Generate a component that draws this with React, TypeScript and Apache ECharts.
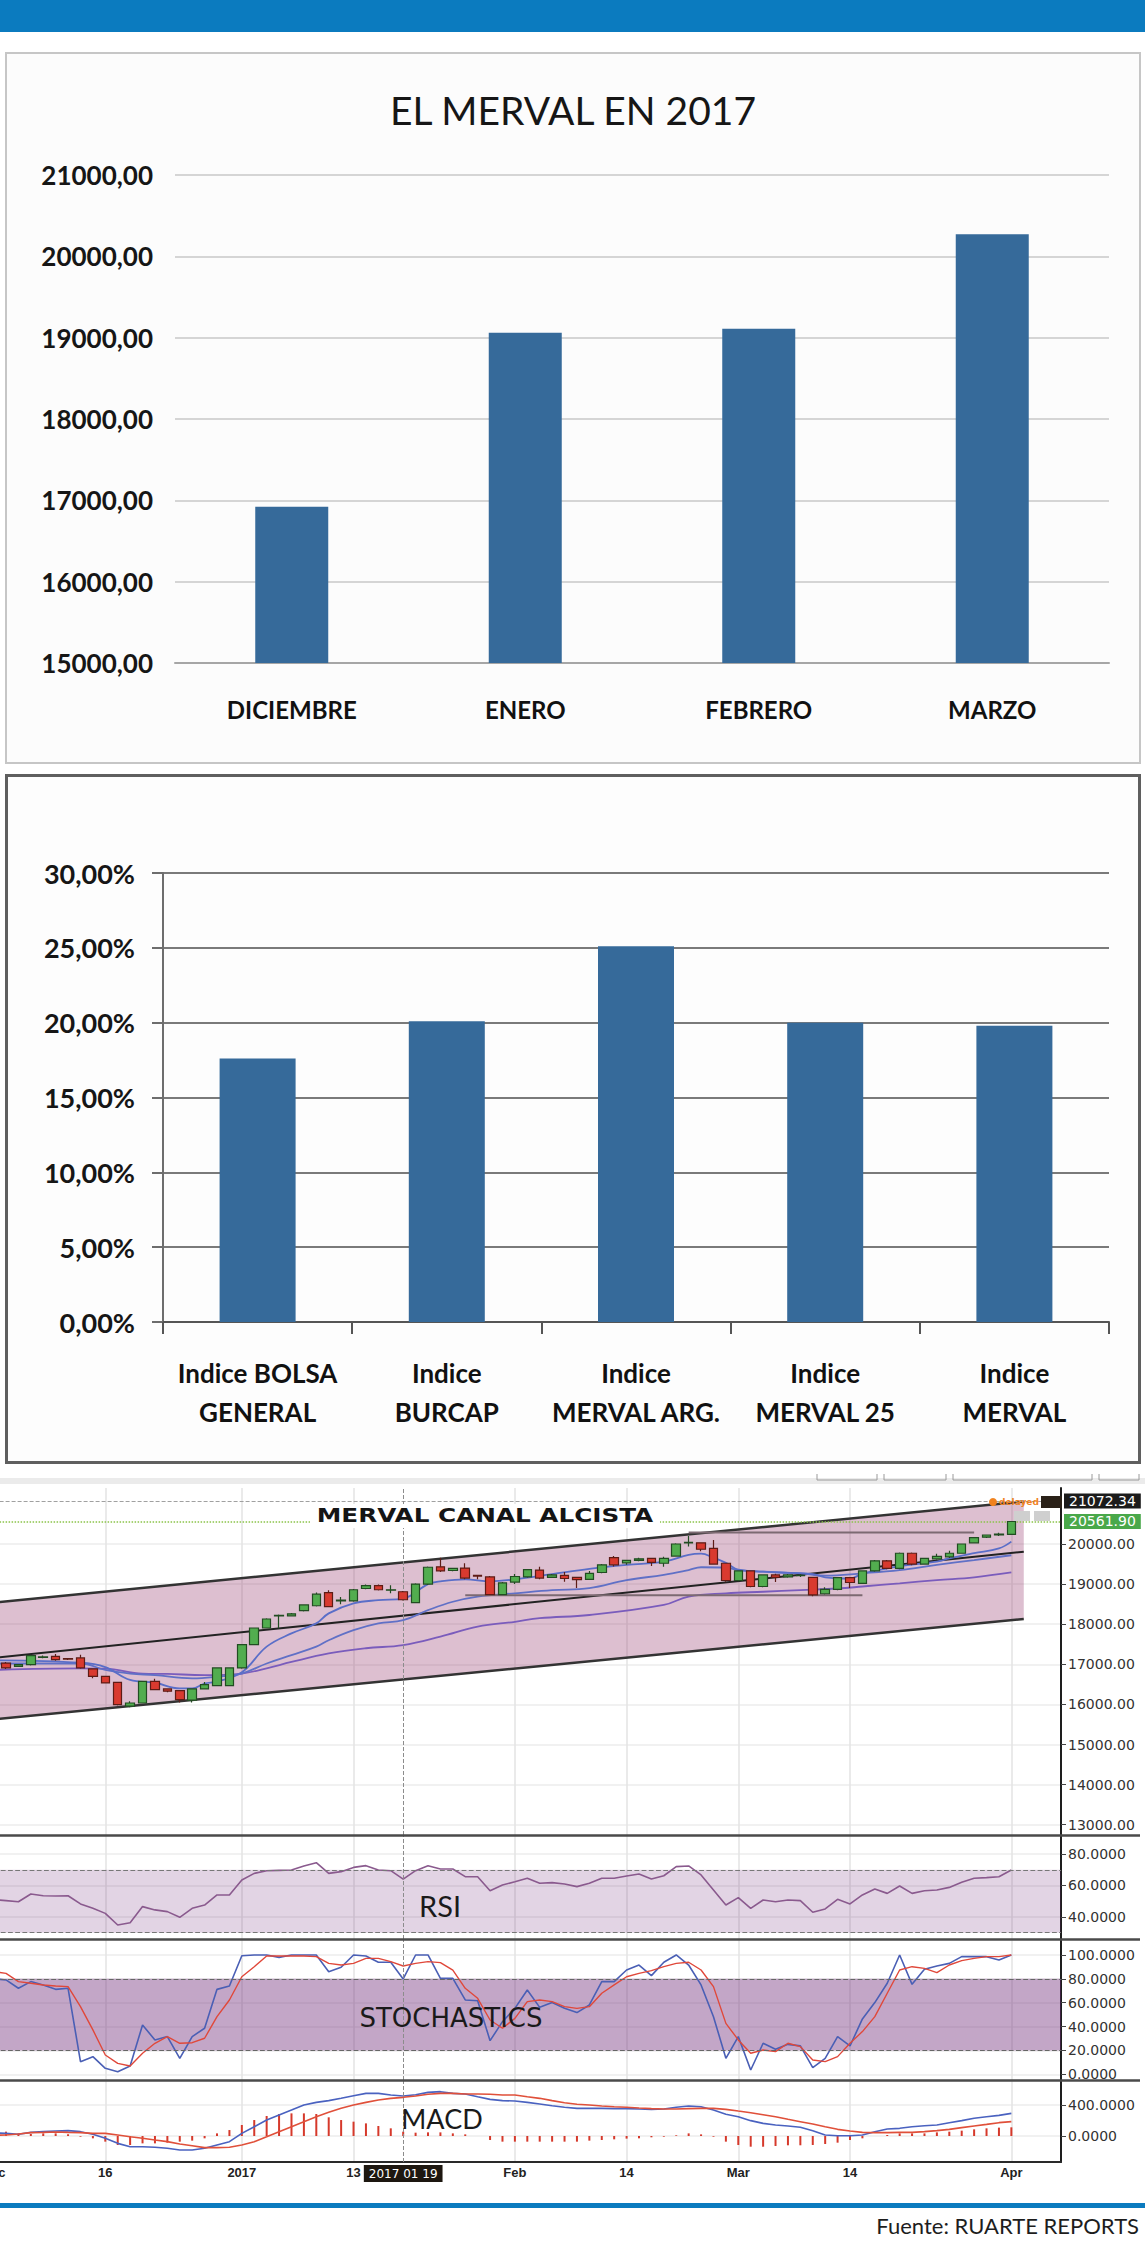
import React, { useEffect, useRef } from 'react';
import * as echarts from 'echarts';

// ---------------- DATA ----------------
const monthCategories = ['DICIEMBRE', 'ENERO', 'FEBRERO', 'MARZO'];
const mervalMonthClose = [16920, 19060, 19110, 20270];
const mervalAxisTicks = [15000, 21000, 1000]; // min, max, step

const indexCategories = ['Indice BOLSA\nGENERAL', 'Indice\nBURCAP', 'Indice\nMERVAL ARG.', 'Indice\nMERVAL 25', 'Indice\nMERVAL'];
const indexReturns = [17.6, 20.1, 25.1, 20.0, 19.8];

const tradingDays = [
  '2016-12-01', '2016-12-02', '2016-12-05', '2016-12-06', '2016-12-07', '2016-12-12', '2016-12-13', '2016-12-14', '2016-12-15', '2016-12-16',
  '2016-12-19', '2016-12-20', '2016-12-21', '2016-12-22', '2016-12-23', '2016-12-26', '2016-12-27', '2016-12-28', '2016-12-29', '2016-12-30',
  '2017-01-02', '2017-01-03', '2017-01-04', '2017-01-05', '2017-01-06', '2017-01-09', '2017-01-10', '2017-01-11', '2017-01-12', '2017-01-13',
  '2017-01-16', '2017-01-17', '2017-01-18', '2017-01-19', '2017-01-20', '2017-01-23', '2017-01-24', '2017-01-25', '2017-01-26', '2017-01-27',
  '2017-01-30', '2017-01-31', '2017-02-01', '2017-02-02', '2017-02-03', '2017-02-06', '2017-02-07', '2017-02-08', '2017-02-09', '2017-02-10',
  '2017-02-13', '2017-02-14', '2017-02-15', '2017-02-16', '2017-02-17', '2017-02-20', '2017-02-21', '2017-02-22', '2017-02-23', '2017-02-24',
  '2017-03-01', '2017-03-02', '2017-03-03', '2017-03-06', '2017-03-07', '2017-03-08', '2017-03-09', '2017-03-10', '2017-03-13', '2017-03-14',
  '2017-03-15', '2017-03-16', '2017-03-17', '2017-03-20', '2017-03-21', '2017-03-22', '2017-03-23', '2017-03-27', '2017-03-28', '2017-03-29',
  '2017-03-30', '2017-03-31', '2017-04-03', '2017-04-04', '2017-04-05', '2017-04-06', '2017-04-07',
];
const dateTickDays = ['2016-12-01', '2016-12-16', '2017-01-02', '2017-01-13', '2017-02-01', '2017-02-14', '2017-03-01', '2017-03-14', '2017-04-03'];
const dateTickLabels = ['Dec', '16', '2017', '13', 'Feb', '14', 'Mar', '14', 'Apr'];
const crosshairDay = '2017-01-19';
const crosshairLabel = '2017 01 19';

// [open, close, low, high]
const candles = [
  [17000, 17050, 16950, 17100], [17030, 16910, 16880, 17060], [16950, 16990, 16930, 17010], [16990, 17215, 16970, 17240],
  [17175, 17185, 17150, 17220], [17200, 17115, 17090, 17260], [17140, 17130, 17110, 17160], [17160, 16910, 16890, 17240],
  [16885, 16700, 16650, 16900], [16700, 16535, 16520, 16710], [16550, 15995, 15970, 16560], [15955, 16035, 15930, 16080],
  [16035, 16575, 16020, 16590], [16575, 16370, 16350, 16640], [16385, 16330, 16300, 16400], [16345, 16120, 16050, 16360],
  [16105, 16385, 16050, 16400], [16385, 16495, 16370, 16560], [16470, 16910, 16450, 16920], [16470, 16910, 16460, 16920],
  [16910, 17490, 16890, 17500], [17490, 17905, 17480, 17920], [17905, 18130, 17890, 18150], [18210, 18222, 17900, 18240],
  [18210, 18260, 18190, 18280], [18340, 18480, 18320, 18500], [18460, 18750, 18440, 18790], [18790, 18440, 18420, 18850],
  [18580, 18600, 18500, 18680], [18580, 18860, 18560, 18880], [18890, 18960, 18870, 18990], [18960, 18860, 18840, 18990],
  [18850, 18860, 18770, 18970], [18810, 18610, 18590, 18830], [18540, 19000, 18520, 19020], [19000, 19420, 18980, 19440],
  [19430, 19330, 19300, 19660], [19340, 19390, 19320, 19400], [19400, 19150, 19120, 19520], [19220, 19200, 19120, 19230],
  [19180, 18740, 18720, 19200], [18740, 19030, 18720, 19050], [19050, 19190, 19000, 19250], [19180, 19360, 19160, 19380],
  [19350, 19150, 19120, 19430], [19170, 19230, 19150, 19250], [19220, 19140, 19060, 19300], [19170, 19110, 18900, 19180],
  [19120, 19270, 19100, 19330], [19290, 19480, 19270, 19500], [19660, 19480, 19440, 19700], [19530, 19590, 19480, 19610],
  [19590, 19630, 19570, 19660], [19640, 19540, 19450, 19660], [19520, 19640, 19430, 19680], [19700, 20000, 19680, 20020],
  [20030, 20040, 19940, 20200], [20030, 19870, 19820, 20040], [19890, 19500, 19480, 20100], [19520, 19090, 19060, 19530],
  [19090, 19330, 19070, 19340], [19330, 18940, 18920, 19340], [18940, 19230, 18920, 19240], [19230, 19170, 19050, 19260],
  [19180, 19230, 19160, 19250], [19210, 19220, 19180, 19250], [19170, 18730, 18700, 19180], [18760, 18870, 18740, 18920],
  [18870, 19160, 18850, 19180], [19160, 19040, 18900, 19180], [19020, 19330, 19000, 19340], [19330, 19580, 19310, 19600],
  [19580, 19390, 19370, 19600], [19390, 19770, 19370, 19790], [19770, 19500, 19470, 19790], [19500, 19640, 19480, 19660],
  [19630, 19690, 19610, 19760], [19680, 19770, 19650, 19830], [19770, 20000, 19760, 20010], [20030, 20160, 20010, 20170],
  [20170, 20225, 20150, 20240], [20230, 20245, 20200, 20280], [20240, 20562, 20230, 20570],
];

// moving averages read at sampled days: [dayIndex, value]
const maFast = [[0, 17100], [7, 17040], [9, 16930], [11, 16610], [13, 16540], [15, 16400], [16, 16400], [17, 16520], [18, 16570],
  [20, 16800], [22, 17440], [24, 17770], [26, 18020], [27, 18270], [29, 18520], [31, 18600], [33, 18640], [35, 19000], [36, 19070],
  [38, 19120], [40, 19070], [42, 19120], [45, 19250], [48, 19380], [51, 19480], [54, 19560], [56, 19730], [57, 19760], [58, 19660],
  [59, 19530], [60, 19360], [62, 19310], [64, 19280], [66, 19250], [67, 19170], [69, 19140], [70, 19260], [72, 19390], [73, 19450],
  [76, 19560], [77, 19640], [79, 19770], [81, 19890], [82, 20060]];
const maMedium = [[0, 17020], [7, 17020], [9, 16860], [11, 16770], [13, 16730], [16, 16650], [18, 16690], [20, 16770], [22, 17020],
  [24, 17230], [26, 17440], [27, 17600], [29, 17850], [31, 18020], [33, 18100], [35, 18350], [37, 18560], [39, 18690], [42, 18770],
  [45, 18850], [48, 18900], [51, 19100], [54, 19230], [56, 19350], [57, 19420], [59, 19410], [60, 19350], [62, 19310], [65, 19270],
  [67, 19210], [70, 19270], [73, 19350], [76, 19480], [79, 19600], [82, 19720]];
const maSlow = [[0, 16860], [7, 16900], [9, 16890], [12, 16770], [14, 16760], [17, 16730], [20, 16770], [22, 16900], [24, 17060],
  [27, 17270], [30, 17400], [33, 17480], [36, 17690], [39, 17940], [42, 18060], [44, 18150], [48, 18230], [54, 18480], [56, 18690],
  [59, 18770], [62, 18810], [65, 18850], [68, 18890], [70, 18940], [73, 19020], [76, 19100], [79, 19170], [82, 19290]];

const channelUpper = [[0, 18540], [83, 21060]];
const channelMiddle = [[0, 17160], [83, 19810]];
const channelLower = [[0, 15626], [83, 18130]];
const supportLevel = [[38, 18720], [70, 18720]];
const resistanceLevel = [[56, 20290], [79, 20290]];
const lastQuote = 21072.34;
const lastClose = 20561.9;

const rsi = [51.0, 50.4, 49.7, 54.6, 53.5, 53.3, 53.5, 48.3, 45.5, 42.3, 34.9, 36.4, 46.6, 44.5, 43.4, 39.8, 45.5, 47.6, 54.0, 54.0,
  63.5, 67.7, 69.4, 69.6, 69.8, 72.4, 74.5, 67.7, 68.8, 71.5, 72.6, 69.8, 69.4, 64.1, 69.4, 72.6, 70.5, 70.5, 65.6, 65.6, 56.7,
  60.3, 62.4, 64.6, 61.4, 61.8, 61.0, 59.3, 61.4, 64.6, 64.6, 66.0, 67.3, 64.1, 66.2, 72.0, 72.4, 66.7, 57.1, 47.6, 52.3, 45.5,
  50.8, 49.7, 50.8, 50.4, 43.0, 45.1, 51.2, 48.3, 54.0, 57.8, 55.0, 59.7, 55.0, 56.7, 57.1, 58.8, 62.0, 64.6, 65.0, 65.6, 69.8];
const rsiMarker = 54.1212;
const rsiBand = [30, 70];

const stochK = [80, 79.1, 72.1, 77.7, 74.9, 71.2, 72.1, 10.6, 14.8, 5.0, 2.2, 7.0, 41.3, 28.8, 31.6, 13.4, 31.6, 38.6, 71.2, 74.0,
  99.4, 100, 100, 98.0, 100, 100, 100, 86.0, 89.7, 100, 99.2, 93.9, 93.9, 79.9, 100, 100, 80.4, 80.4, 62.3, 61.7, 28.2, 44.1,
  55.3, 70.7, 56.1, 60.1, 55.3, 51.7, 58.1, 77.7, 77.7, 87.4, 91.6, 82.7, 93.9, 100, 91.6, 74.9, 48.3, 13.4, 31.6, 3.6, 26.0,
  21.0, 25.1, 23.8, 5.6, 13.4, 31.6, 23.8, 46.4, 60.1, 76.3, 100, 75.4, 88.0, 90.8, 93.0, 98.6, 98.6, 98.6, 95.8, 100];
const stochD = [86, 84.6, 77.7, 76.3, 74.9, 74.0, 73.5, 56.7, 37.2, 16.2, 9.2, 7.0, 17.6, 26.0, 31.6, 26.0, 26.5, 30.2, 48.3, 62.3,
  81.8, 90.2, 99.2, 99.2, 99.2, 99.2, 98.6, 93.0, 91.6, 93.0, 97.2, 97.2, 94.4, 90.8, 93.0, 94.4, 93.6, 87.4, 72.1, 63.7, 45.5,
  38.6, 46.9, 60.9, 62.3, 60.9, 56.7, 55.3, 56.7, 67.9, 74.9, 81.8, 84.6, 86.9, 90.2, 93.0, 93.9, 87.4, 73.5, 42.7, 28.8, 17.6,
  20.4, 19.0, 26.0, 23.2, 12.0, 10.6, 14.8, 26.0, 35.8, 48.3, 67.9, 87.4, 90.2, 88.8, 85.2, 91.6, 95.3, 97.2, 98.6, 98.6, 100];
const stochBand = [20, 80];

const macdLine = [40, 34, 22, 47, 56, 65, 69, 56, 22, -30, -95, -138, -138, -146, -159, -181, -181, -159, -116, -73, 34,
  120, 206, 271, 335, 400, 434, 456, 486, 520, 550, 550, 529, 516, 533, 563, 572, 550, 542, 507, 473, 456, 452, 434, 413,
  391, 370, 357, 357, 357, 353, 353, 348, 344, 348, 370, 387, 378, 335, 280, 249, 198, 163, 142, 129, 112, 69, 13, 4, 4, 13,
  56, 90, 99, 120, 133, 142, 172, 198, 228, 249, 266, 292];
const signalLine = [10, 13, 26, 43, 47, 52, 47, 43, 34, 34, 13, -9, -30, -52, -73, -103, -125, -150, -150, -146, -116, -73, -9,
  56, 120, 185, 249, 305, 357, 400, 434, 464, 486, 499, 516, 538, 550, 550, 542, 542, 538, 529, 529, 507, 486, 456, 430, 409,
  400, 387, 378, 370, 361, 353, 348, 348, 353, 357, 357, 344, 322, 301, 275, 249, 215, 185, 155, 120, 86, 65, 47, 43, 43, 47,
  47, 56, 69, 86, 108, 129, 150, 172, 185];
const macdHist = [60, 56, 34, 26, 34, 34, 21, -9, -30, -73, -116, -116, -95, -95, -86, -73, -60, -30, 34, 77, 142, 206, 258,
  284, 292, 292, 284, 241, 206, 185, 163, 129, 99, 56, 43, 47, 47, 34, 21, 0, -52, -73, -73, -73, -73, -73, -73, -73, -60, -52,
  -43, -34, -30, -17, -9, 9, 34, 21, -9, -73, -116, -138, -138, -129, -120, -120, -116, -103, -86, -52, -30, 0, 13, 34, 34, 34,
  47, 56, 69, 86, 99, 108, 112];

const priceTicks = [13000, 14000, 15000, 16000, 17000, 18000, 19000, 20000];
const rsiTicks = [40, 60, 80];
const stochTicks = [0, 20, 40, 60, 80, 100];
const macdTicks = [0, 400];

// ---------------- OPTIONS ----------------
const LATO = 'Lato, "Open Sans", sans-serif';
const DEJAVU = '"DejaVu Sans", Verdana, sans-serif';
const commaFmt = (v: number) => v.toFixed(2).replace('.', ',');

const barOption1: any = {
  animation: false,
  backgroundColor: '#fcfcfc',
  title: {
    text: 'EL MERVAL EN 2017', left: 'center', top: 31,
    textStyle: { fontFamily: LATO, fontSize: 39, fontWeight: 'normal', color: '#161616' },
  },
  grid: { left: 168, right: 30, top: 121, height: 488 },
  xAxis: {
    type: 'category', data: monthCategories,
    axisLine: { lineStyle: { color: '#a6a6a6', width: 2 } },
    axisTick: { show: false },
    axisLabel: { fontFamily: LATO, fontWeight: 'bold', fontSize: 24, color: '#111', margin: 34 },
  },
  yAxis: {
    type: 'value', min: mervalAxisTicks[0], max: mervalAxisTicks[1], interval: mervalAxisTicks[2],
    axisLabel: { formatter: commaFmt, fontFamily: LATO, fontWeight: 'bold', fontSize: 26, color: '#161616', margin: 22 },
    splitLine: { lineStyle: { color: '#c9c9c9', width: 1.5 } },
  },
  series: [{ type: 'bar', data: mervalMonthClose, barWidth: 73, itemStyle: { color: '#366a9a' }, silent: true }],
};

const barOption2: any = {
  animation: false,
  backgroundColor: '#fdfdfd',
  grid: { left: 155, right: 29, top: 96, height: 449 },
  xAxis: {
    type: 'category', data: indexCategories,
    axisLine: { lineStyle: { color: '#555', width: 2 } },
    axisTick: { show: true, length: 12, lineStyle: { color: '#555', width: 2 } },
    axisLabel: { fontFamily: LATO, fontWeight: 'bold', fontSize: 26, lineHeight: 39, color: '#111', margin: 31, interval: 0 },
  },
  yAxis: {
    type: 'value', min: 0, max: 30, interval: 5,
    axisLine: { show: true, lineStyle: { color: '#6d6d6d', width: 2 } },
    axisTick: { show: true, length: 11, lineStyle: { color: '#6d6d6d', width: 2 } },
    axisLabel: { formatter: (v: number) => commaFmt(v) + '%', fontFamily: LATO, fontWeight: 'bold', fontSize: 27, color: '#161616', margin: 28 },
    splitLine: { lineStyle: { color: '#7a7a7a', width: 2 } },
  },
  series: [{ type: 'bar', data: indexReturns, barWidth: 76, itemStyle: { color: '#366a9a' }, silent: true }],
};

// trading chart (container is shifted 60px left of the page and starts at page y 1466)
const GL = 53.6;
const GR = 84;
const gridsDef = [[22, 347], [370, 103], [474, 140], [615, 81]];
const isTick = (_i: number, v: string) => dateTickDays.includes(v);

const xAxes = gridsDef.map((_, gi) => ({
  type: 'category', gridIndex: gi, data: tradingDays, boundaryGap: false,
  axisLine: { show: gi === 3, onZero: false, lineStyle: { color: '#2a2a2a', width: 2 } },
  axisTick: { show: false },
  axisLabel: {
    show: gi === 3, interval: isTick,
    formatter: (v: string) => { const k = dateTickDays.indexOf(v); return k >= 0 ? dateTickLabels[k] : ''; },
    fontFamily: '"Liberation Sans", Arial, sans-serif', fontWeight: 'bold', fontSize: 13, color: '#222', margin: 4,
  },
  splitLine: { show: true, interval: isTick, lineStyle: { color: '#e3e3e3', width: 1.5 } },
}));

const mkY = (gi: number, min: number, max: number, ticks: number[], digits: number) => ({
  type: 'value', gridIndex: gi, position: 'right', min, max,
  axisLine: { show: true, lineStyle: { color: '#1e1e1e', width: 2 } },
  axisTick: { show: true, length: 5, customValues: ticks, lineStyle: { color: '#444' } },
  axisLabel: { customValues: ticks, formatter: (v: number) => v.toFixed(digits), fontFamily: DEJAVU, fontSize: 14, color: '#333', margin: 7 },
  splitLine: { show: true, lineStyle: { color: '#ececec', width: 1.5 } },
});

const crossLine = { xAxis: crosshairDay, lineStyle: { type: 'dashed', color: '#8c8c8c', width: 1 }, label: { show: false } };
const lineS = (data: any, color: string, width: number, xi: number, extra: any = {}) => ({
  type: 'line', data, xAxisIndex: xi, yAxisIndex: xi, symbol: 'none', silent: true,
  lineStyle: { color, width }, ...extra,
});
const boxLabel = (text: string, bg: string, size = 14) => ({
  show: true, position: 'end', distance: 3, formatter: text, backgroundColor: bg, color: '#fff', padding: [1, 5, 0, 5],
  fontFamily: DEJAVU, fontSize: size,
});

const tradingOption: any = {
  animation: false,
  grid: gridsDef.map(([top, height]) => ({ left: GL, right: GR, top, height })),
  xAxis: xAxes,
  yAxis: [
    mkY(0, 12743, 21397, priceTicks, 2),
    mkY(1, 26.03, 91.43, rsiTicks, 4),
    mkY(2, -4.78, 112.57, stochTicks, 4),
    mkY(3, -335.5, 709.7, macdTicks, 4),
  ],
  series: [
    {
      type: 'custom', xAxisIndex: 0, yAxisIndex: 0, silent: true, z: 1,
      data: [[channelLower[0][0], channelLower[0][1], channelUpper[0][1], channelLower[1][0], channelLower[1][1], channelUpper[1][1]]],
      renderItem: (_p: any, api: any) => {
        const a = api.coord([api.value(0), api.value(1)]);
        const b = api.coord([api.value(3), api.value(4)]);
        const c = api.coord([api.value(3), api.value(5)]);
        const d = api.coord([api.value(0), api.value(2)]);
        return { type: 'polygon', shape: { points: [a, b, c, d] }, style: { fill: 'rgba(150,55,110,0.32)' } };
      },
    },
    lineS(channelUpper, '#333', 2.5, 0, { z: 3 }),
    lineS(channelMiddle, '#222', 2, 0, { z: 3 }),
    lineS(channelLower, '#333', 2.5, 0, { z: 3 }),
    lineS(maSlow, '#7a5cbc', 1.8, 0, { smooth: 0.4, z: 3 }),
    lineS(maMedium, '#6070c6', 1.8, 0, { smooth: 0.4, z: 3 }),
    lineS(maFast, '#5a6ec8', 1.8, 0, { smooth: 0.4, z: 3 }),
    lineS(supportLevel, '#7c6a72', 2, 0, { z: 3 }),
    lineS(resistanceLevel, '#7c6a72', 2, 0, { z: 3 }),
    {
      type: 'candlestick', xAxisIndex: 0, yAxisIndex: 0, data: candles, barWidth: 9, silent: true, z: 5,
      itemStyle: { color: '#52ad4f', color0: '#d93a2f', borderColor: '#224d22', borderColor0: '#5e1c16', borderWidth: 1.2 },
      markLine: {
        symbol: 'none', silent: true, animation: false,
        data: [
          { yAxis: lastQuote, lineStyle: { color: '#a0a0a0', type: 'dashed', width: 1 }, label: boxLabel(lastQuote.toFixed(2), '#1b1b1b') },
          { yAxis: lastClose, lineStyle: { color: '#8bc34a', type: 'dotted', width: 1.5 }, label: boxLabel(lastClose.toFixed(2), '#49a84a') },
          crossLine,
        ],
      },
    },
    lineS(rsi, '#8a5a8e', 1.6, 1, {
      markArea: { silent: true, itemStyle: { color: 'rgba(110,40,120,0.2)' }, data: [[{ yAxis: rsiBand[0] }, { yAxis: rsiBand[1] }]] },
      markLine: {
        symbol: 'none', silent: true, animation: false,
        data: [
          { yAxis: rsiBand[0], lineStyle: { color: '#777', type: 'dashed', width: 1.2 }, label: { show: false } },
          { yAxis: rsiBand[1], lineStyle: { color: '#777', type: 'dashed', width: 1.2 }, label: { show: false } },
          { yAxis: rsiMarker, lineStyle: { opacity: 0 }, label: boxLabel(rsiMarker.toFixed(4), '#3a78b0', 13) },
          crossLine,
        ],
      },
    }),
    lineS(stochK, '#4a5fb5', 1.6, 2, {
      markArea: { silent: true, itemStyle: { color: 'rgba(110,40,120,0.41)' }, data: [[{ yAxis: stochBand[0] }, { yAxis: stochBand[1] }]] },
      markLine: {
        symbol: 'none', silent: true, animation: false,
        data: [
          { yAxis: stochBand[0], lineStyle: { color: '#666', type: 'dashed', width: 1.2 }, label: { show: false } },
          { yAxis: stochBand[1], lineStyle: { color: '#666', type: 'dashed', width: 1.2 }, label: { show: false } },
          crossLine,
        ],
      },
    }),
    lineS(stochD, '#e0483a', 1.4, 2),
    {
      type: 'bar', xAxisIndex: 3, yAxisIndex: 3, data: macdHist, barWidth: 2, silent: true, itemStyle: { color: '#d6392b' },
      markLine: {
        symbol: 'none', silent: true, animation: false,
        data: [{
          xAxis: crosshairDay, lineStyle: { type: 'dashed', color: '#8c8c8c', width: 1 },
          label: { show: true, position: 'start', distance: 3, formatter: crosshairLabel, backgroundColor: '#1d1710', color: '#fff', padding: [3, 5, 2, 5], fontFamily: DEJAVU, fontSize: 12 },
        }],
      },
    },
    lineS(macdLine, '#4a62c0', 1.6, 3),
    lineS(signalLine, '#e0503a', 1.6, 3),
  ],
  graphic: [
    { type: 'rect', silent: true, shape: { x: 0, y: 12, width: 1205, height: 6 }, style: { fill: '#ebebeb' } },
    ...[[817, 877], [884, 946], [953, 1092], [1099, 1139]].map(([a, b]) => ({
      type: 'polyline', silent: true, shape: { points: [[a + 60, 8], [a + 60, 14], [b + 60, 14], [b + 60, 8]] },
      style: { stroke: '#9a9a9a', fill: null, lineWidth: 1 },
    })),
    ...[369.5, 473.5, 614.5].map((y) => ({
      type: 'line', silent: true, z: 50, shape: { x1: 60, y1: y, x2: 1200, y2: y }, style: { stroke: '#4a4a4a', lineWidth: 2.5 },
    })),
    { type: 'rect', silent: true, z: 60, shape: { x: 370, y: 38, width: 350, height: 24 }, style: { fill: '#fff' } },
    {
      type: 'text', silent: true, z: 61, x: 545, y: 50, scaleX: 1.3,
      style: { text: 'MERVAL CANAL ALCISTA', fontFamily: DEJAVU, fontWeight: 'bold', fontSize: 19, fill: '#151515', align: 'center', verticalAlign: 'middle' },
    },
    { type: 'circle', silent: true, z: 62, shape: { cx: 1053, cy: 36, r: 4 }, style: { fill: '#f0821e' } },
    {
      type: 'text', silent: true, z: 62, x: 1059, y: 36,
      style: { text: 'delayed', fontFamily: DEJAVU, fontWeight: 'bold', fontSize: 9, fill: '#f0821e', align: 'left', verticalAlign: 'middle' },
    },
    { type: 'rect', silent: true, z: 62, shape: { x: 1101, y: 30, width: 21, height: 12 }, style: { fill: '#2a2118' } },
    { type: 'rect', silent: true, z: 62, shape: { x: 1074, y: 45, width: 16, height: 10 }, style: { fill: '#cfcfcf' } },
    { type: 'rect', silent: true, z: 62, shape: { x: 1094, y: 45, width: 16, height: 10 }, style: { fill: '#cfcfcf' } },
    {
      type: 'text', silent: true, z: 61, x: 500, y: 439,
      style: { text: 'RSI', fontFamily: LATO, fontSize: 29, fill: '#1a1a1a', align: 'center', verticalAlign: 'middle' },
    },
    {
      type: 'text', silent: true, z: 61, x: 511, y: 552,
      style: { text: 'STOCHASTICS', fontFamily: DEJAVU, fontSize: 26, fill: '#1a1a1a', align: 'center', verticalAlign: 'middle' },
    },
    {
      type: 'text', silent: true, z: 61, x: 502, y: 652,
      style: { text: 'MACD', fontFamily: LATO, fontSize: 27, fill: '#1a1a1a', align: 'center', verticalAlign: 'middle' },
    },
  ],
};

// ---------------- COMPONENTS ----------------
function EChart({ option, style }: { option: any; style: React.CSSProperties }) {
  const ref = useRef<HTMLDivElement>(null);
  useEffect(() => {
    if (!ref.current) return;
    const chart = echarts.init(ref.current, undefined, { renderer: 'svg' });
    chart.setOption(option);
    return () => chart.dispose();
  }, [option]);
  return <div ref={ref} style={style} />;
}

export default function App() {
  return (
    <div style={{ position: 'absolute', left: 0, top: 0, width: 1145, height: 2244, overflow: 'hidden', background: '#fff' }}>
      <div style={{ position: 'absolute', left: 0, top: 0, width: 1145, height: 32, background: '#0b7bbf' }} />
      <div style={{ position: 'absolute', left: 5, top: 52, width: 1136, height: 712, border: '2px solid #c6c6c6', boxSizing: 'border-box' }}>
        <EChart option={barOption1} style={{ position: 'absolute', left: 0, top: 0, width: 1132, height: 708 }} />
      </div>
      <div style={{ position: 'absolute', left: 5, top: 774, width: 1136, height: 690, border: '3px solid #5f5f5f', boxSizing: 'border-box' }}>
        <EChart option={barOption2} style={{ position: 'absolute', left: 0, top: 0, width: 1130, height: 684 }} />
      </div>
      <EChart option={tradingOption} style={{ position: 'absolute', left: -60, top: 1466, width: 1205, height: 730 }} />
      <div style={{ position: 'absolute', left: 0, top: 2203, width: 1145, height: 5, background: '#0b7bbf' }} />
      <div style={{ position: 'absolute', right: 6, top: 2212, fontFamily: LATO, fontSize: 22, color: '#1d1d1d', whiteSpace: 'nowrap' }}>
        Fuente: RUARTE REPORTS
      </div>
    </div>
  );
}
